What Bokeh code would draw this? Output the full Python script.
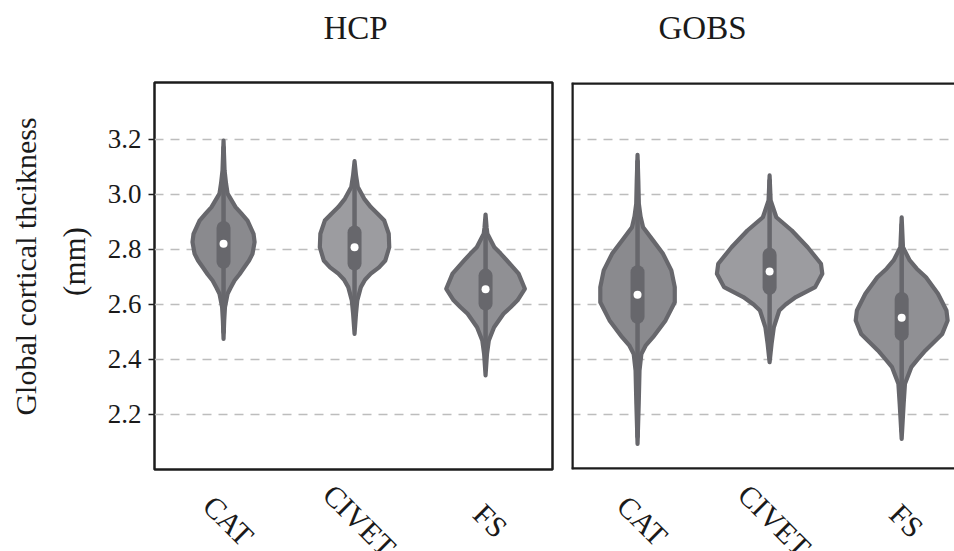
import math
from bokeh.plotting import figure
from bokeh.models import Range1d, FixedTicker, ColumnDataSource, Span, PrintfTickFormatter
from bokeh.core.properties import value
from bokeh.layouts import row, column
from bokeh.embed import file_html
from bokeh.resources import INLINE

# ---------------- data ----------------
datasets = ["HCP", "GOBS"]
categories = ["CAT", "CIVET", "FS"]
y_ticks = [2.2, 2.4, 2.6, 2.8, 3.0, 3.2]
y_label_lines = ["Global cortical thcikness", "(mm)"]

# violin density profiles: y (mm) and half-width (x units)
hcp_cat_y = [3.196, 3.14, 3.087, 3.04, 3.003, 2.954, 2.93, 2.905, 2.857, 2.827, 2.784, 2.76, 2.736, 2.71, 2.687, 2.66, 2.639, 2.590, 2.54, 2.475]
hcp_cat_w = [0.0, 0.004, 0.008, 0.019, 0.031, 0.092, 0.137, 0.183, 0.229, 0.237, 0.221, 0.195, 0.160, 0.122, 0.084, 0.053, 0.031, 0.011, 0.005, 0.0]

hcp_civet_y = [3.121, 3.07, 3.027, 2.984, 2.954, 2.93, 2.905, 2.857, 2.808, 2.76, 2.735, 2.712, 2.69, 2.663, 2.615, 2.566, 2.493]
hcp_civet_w = [0.0, 0.011, 0.025, 0.074, 0.124, 0.176, 0.227, 0.261, 0.265, 0.235, 0.187, 0.124, 0.080, 0.048, 0.021, 0.011, 0.0]

hcp_fs_y = [2.927, 2.88, 2.857, 2.808, 2.785, 2.76, 2.712, 2.657, 2.615, 2.59, 2.566, 2.517, 2.469, 2.42, 2.342]
hcp_fs_w = [0.0, 0.008, 0.014, 0.067, 0.115, 0.163, 0.252, 0.300, 0.244, 0.191, 0.137, 0.065, 0.025, 0.011, 0.0]

gobs_cat_y = [3.144, 3.05, 2.966, 2.92, 2.881, 2.833, 2.784, 2.724, 2.663, 2.608, 2.542, 2.481, 2.45, 2.42, 2.36, 2.239, 2.093]
gobs_cat_w = [0.0, 0.006, 0.010, 0.023, 0.042, 0.117, 0.193, 0.256, 0.282, 0.282, 0.212, 0.117, 0.061, 0.029, 0.015, 0.009, 0.0]

gobs_civet_y = [3.069, 2.978, 2.917, 2.869, 2.808, 2.748, 2.712, 2.663, 2.627, 2.60, 2.578, 2.517, 2.457, 2.39]
gobs_civet_w = [0.0, 0.008, 0.051, 0.168, 0.288, 0.389, 0.399, 0.345, 0.199, 0.121, 0.073, 0.032, 0.015, 0.0]

gobs_fs_y = [2.917, 2.808, 2.76, 2.73, 2.699, 2.639, 2.578, 2.542, 2.493, 2.433, 2.40, 2.372, 2.312, 2.239, 2.111]
gobs_fs_w = [0.0, 0.010, 0.061, 0.114, 0.184, 0.275, 0.339, 0.348, 0.307, 0.180, 0.121, 0.073, 0.025, 0.015, 0.0]

# inner box statistics
hcp_median = [2.821, 2.808, 2.655]
hcp_q1 = [2.755, 2.749, 2.603]
hcp_q3 = [2.878, 2.862, 2.705]
hcp_lo = [2.50, 2.52, 2.37]
hcp_hi = [3.17, 3.10, 2.90]

gobs_median = [2.635, 2.720, 2.552]
gobs_q1 = [2.555, 2.661, 2.492]
gobs_q3 = [2.717, 2.781, 2.620]
gobs_lo = [2.12, 2.41, 2.14]
gobs_hi = [3.12, 3.05, 2.89]

# ---------------- style / layout ----------------
FONT = value("Liberation Serif")
TXT = "#1a1a1a"
EDGE = "#67676c"
FILLS = ["#8a8a8e", "#9c9ca0", "#909094"]
FRAME = "#1c1c1c"
W_TOTAL, H_TOTAL = 954, 551
STRIP_W = 100
TOP_H = 80
MAIN_H = 392          # 2 px border + 387 px frame + 3 px border
BOT_H = H_TOTAL - TOP_H - MAIN_H

profiles = {
    "HCP": [(hcp_cat_y, hcp_cat_w), (hcp_civet_y, hcp_civet_w), (hcp_fs_y, hcp_fs_w)],
    "GOBS": [(gobs_cat_y, gobs_cat_w), (gobs_civet_y, gobs_civet_w), (gobs_fs_y, gobs_fs_w)],
}
stats = {
    "HCP": (hcp_median, hcp_q1, hcp_q3, hcp_lo, hcp_hi),
    "GOBS": (gobs_median, gobs_q1, gobs_q3, gobs_lo, gobs_hi),
}


def blank(width, height, x_range, y_range, mb_left=0, mb_right=0):
    f = figure(width=width, height=height, x_range=x_range, y_range=y_range,
               output_backend="svg", toolbar_location=None,
               min_border_left=mb_left, min_border_right=mb_right,
               min_border_top=0, min_border_bottom=0)
    f.axis.visible = False
    f.grid.visible = False
    f.outline_line_color = None
    f.background_fill_color = "white"
    f.border_fill_color = "white"
    return f


def make_panel(name, x_range, width, mb_left, mb_right, show_y, title_x, title_offset):
    positions = list(range(len(categories)))

    # title strip
    t = blank(width, TOP_H, x_range, Range1d(0, 1), mb_left, mb_right)
    t.text(x=[title_x], y=[1 - 27.5 / TOP_H], text=[name], x_offset=title_offset,
           text_align="center", text_baseline="middle",
           text_font=FONT, text_font_size="33px", text_color=TXT)

    # main violin panel
    p = figure(width=width, height=MAIN_H, x_range=x_range, y_range=Range1d(2.0, 3.407),
               output_backend="svg", toolbar_location=None,
               min_border_left=mb_left, min_border_right=mb_right,
               min_border_top=2, min_border_bottom=3)
    p.background_fill_color = "white"
    p.border_fill_color = "white"
    p.xgrid.visible = False
    p.xaxis.visible = False
    p.ygrid.ticker = FixedTicker(ticks=y_ticks)
    p.ygrid.grid_line_color = "#bdbdbd"
    p.ygrid.grid_line_width = 1.3
    p.ygrid.grid_line_dash = "9 7"

    for i, (ys, ws) in enumerate(profiles[name]):
        xs = [positions[i] + w for w in ws] + [positions[i] - w for w in reversed(ws)]
        yy = list(ys) + list(reversed(ys))
        p.patch(xs, yy, fill_color=FILLS[i], line_color=EDGE, line_width=4.2, line_join="round")

    med, q1, q3, lo, hi = stats[name]
    src = ColumnDataSource(dict(x=positions, med=med, q1=q1, q3=q3, lo=lo, hi=hi))
    p.segment(x0="x", y0="lo", x1="x", y1="hi", source=src, line_color=EDGE, line_width=4.5, line_cap="round")
    p.segment(x0="x", y0="q1", x1="x", y1="q3", source=src, line_color=EDGE, line_width=14, line_cap="round")
    p.scatter(x="x", y="med", source=src, size=8, fill_color="white", line_color=None)

    if show_y:
        ax = p.yaxis[0]
        ax.ticker = FixedTicker(ticks=y_ticks)
        ax.formatter = PrintfTickFormatter(format="%.1f")
        ax.axis_line_color = None
        ax.major_tick_out = 6
        ax.major_tick_in = 0
        ax.major_tick_line_color = FRAME
        ax.major_tick_line_width = 1.5
        ax.minor_tick_line_color = None
        ax.major_label_standoff = 7
        ax.major_label_text_font = "Liberation Serif"
        ax.major_label_text_font_size = "27px"
        ax.major_label_text_color = TXT
        p.outline_line_color = FRAME
        p.outline_line_width = 2.5
    else:
        p.yaxis.visible = False
        p.outline_line_alpha = 0
        p.add_layout(Span(location=x_range.start, dimension="height", line_color=FRAME, line_width=4.5))
        p.add_layout(Span(location=p.y_range.start, dimension="width", line_color=FRAME, line_width=4.5))
        p.add_layout(Span(location=p.y_range.end, dimension="width", line_color=FRAME, line_width=4.5))

    # category label strip
    q = blank(width, BOT_H, x_range, Range1d(0, 1), mb_left, mb_right)
    lab = ColumnDataSource(dict(x=positions, text=categories))
    q.text(x="x", y=1 - 48 / BOT_H, text="text", source=lab, angle=-math.pi / 4,
           text_align="center", text_baseline="middle", x_offset=5,
           text_font=FONT, text_font_size="30px", text_color=TXT)
    return column(t, p, q, spacing=0)


# y-axis title strip (two lines, rotated)
ys_fig = blank(STRIP_W, H_TOTAL, Range1d(0, STRIP_W), Range1d(0, H_TOTAL))
ys_fig.text(x=[25, 74], y=[H_TOTAL - 266, H_TOTAL - 261], text=y_label_lines, angle=math.pi / 2,
            text_align="center", text_baseline="middle",
            text_font=FONT, text_font_size=["30px", "31px"], text_color=TXT)

c1 = make_panel("HCP", Range1d(-0.527, 2.511), 461, 54, 9, True, 1, 1)
c2 = make_panel("GOBS", Range1d(-0.5, 2.40), 393, 10, 0, False, -0.5, 131)

layout = row(ys_fig, c1, c2, spacing=0)
open("out.html", "w").write(file_html(layout, INLINE))
